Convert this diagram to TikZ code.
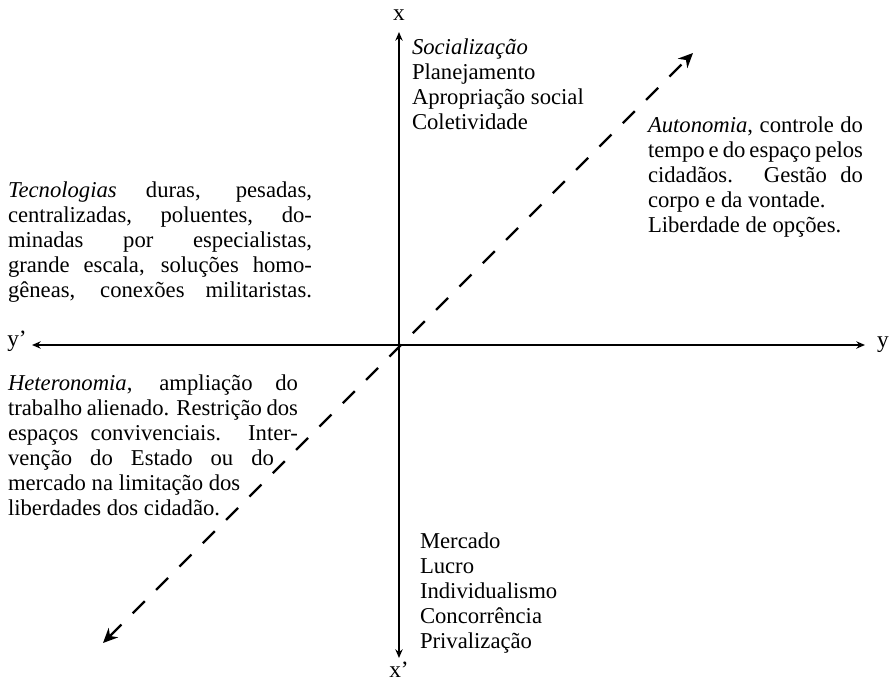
\documentclass[tikz,border=0pt]{standalone}
\usepackage{fontspec}
\setmainfont{Liberation Serif}
\usetikzlibrary{arrows.meta}
\newcommand{\jline}[2]{{\spaceskip=0pt\xspaceskip=0pt\makebox[#1][s]{#2}}}
\begin{document}
\begin{tikzpicture}[x=0.75pt,y=-0.75pt,
  txt/.style={anchor=north west, inner sep=0pt, outer sep=0pt, align=justify,
    font=\fontsize{17pt}{18.75pt}\selectfont},
  lab/.style={anchor=base, inner sep=0pt, font=\fontsize{17.5pt}{18pt}\selectfont},
  axis/.style={line width=1.5pt, {Stealth[length=6.5pt,width=5.5pt]}-{Stealth[length=6.5pt,width=5.5pt]}},
  diag/.style={line width=1.7pt, dash pattern=on 12.75pt off 12pt,
    {Stealth[length=11pt,width=10pt]}-{Stealth[length=11pt,width=10pt]}}]
\useasboundingbox (0,0) rectangle (894,690);

% axis end points
\coordinate (xt) at (399,32);
\coordinate (xb) at (399,658);
\coordinate (yl) at (32,345);
\coordinate (yr) at (865,345);
\coordinate (dl) at (103,643);
\coordinate (dr) at (693,53);

\draw[axis] (xb) -- (xt);
\draw[axis] (yl) -- (yr);
\draw[diag] (dl) -- (dr);

% axis labels
\node[lab] (lx)  at (399,20)  {x};
\node[lab] (lxp) at (399,677) {x’};
\node[lab] (lyp) at (17,346)  {y’};
\node[lab] (ly)  at (883,347) {y};

% text blocks
\node[txt, text width=160pt] (soc) at (412,36.5)
  {\strut\textit{Socialização}\\ Planejamento\\ Apropriação social\\ Coletividade};

\node[txt, text width=228pt] (tec) at (8,179.5)
  {\strut\jline{228pt}{\textit{Tecnologias} duras, pesadas,}\\
   \jline{228pt}{centralizadas, poluentes, do-}\\
   \jline{228pt}{minadas por especialistas,}\\
   \jline{228pt}{grande escala, soluções homo-}\\
   \jline{228pt}{gêneas, conexões militaristas.}};

\node[txt, text width=161.25pt] (aut) at (648,114.5)
  {\strut\jline{161.25pt}{\textit{Autonomia}, controle do}\\
   \jline{161.25pt}{tempo e do espaço pelos}\\
   \jline{161.25pt}{cidadãos. Gestão do}\\
   corpo e da vontade.\\
   Liberdade de opções.};

\node[txt, text width=217.5pt] (het) at (8,372.5)
  {\strut\jline{217.5pt}{\textit{Heteronomia}, ampliação do}\\
   \jline{217.5pt}{trabalho alienado. Restrição dos}\\
   \jline{217.5pt}{espaços convivenciais. Inter-}\\
   \jline{199.5pt}{venção do Estado ou do}\\
   mercado na limitação dos\\
   liberdades dos cidadão.};

\node[txt, text width=160pt] (mer) at (420,530.5)
  {\strut Mercado\\ Lucro\\ Individualismo\\ Concorrência\\ Privalização};
\end{tikzpicture}
\end{document}
